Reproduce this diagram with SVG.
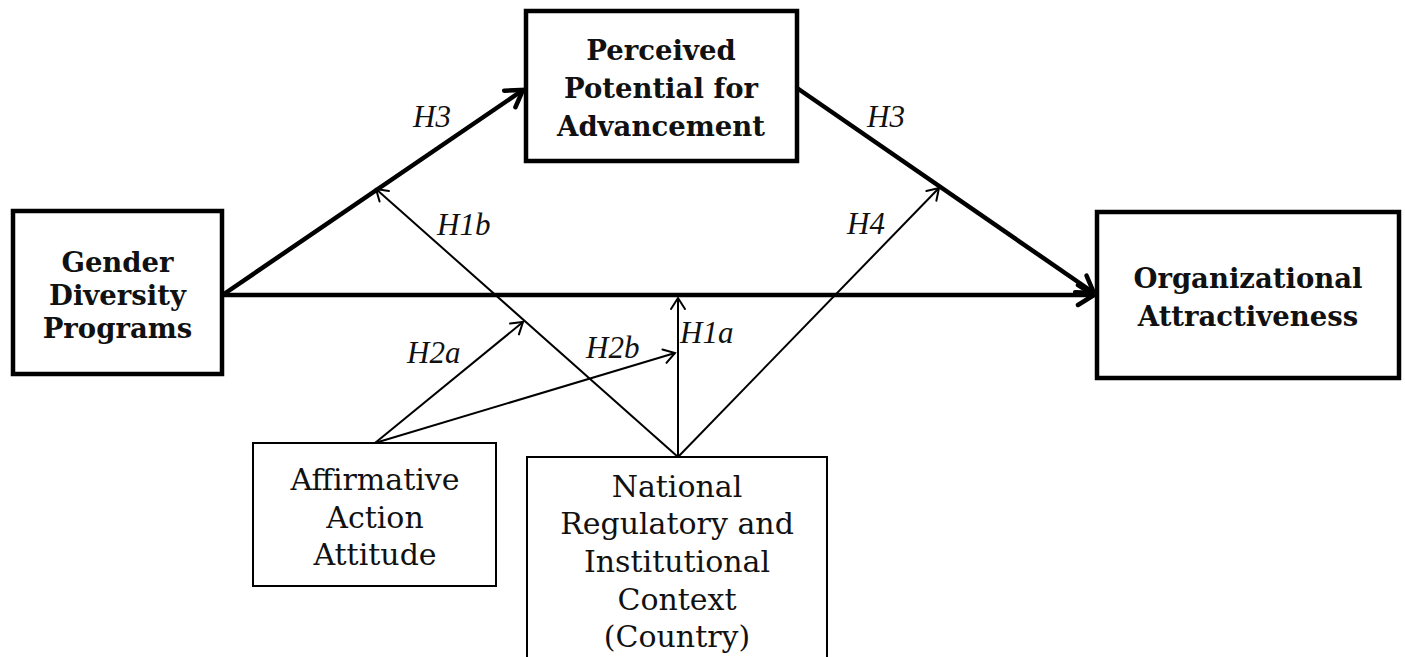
<svg xmlns="http://www.w3.org/2000/svg" width="1405" height="657" viewBox="0 0 1405 657">
<style>
.bx{fill:#fff;stroke:#000;stroke-width:4.5}
.tb{fill:#fff;stroke:#000;stroke-width:2}
.bt{font-family:"DejaVu Serif","Liberation Serif",serif;font-weight:bold;font-size:27.5px;text-anchor:middle;fill:#111}
.rt{font-family:"DejaVu Serif","Liberation Serif",serif;font-size:30px;text-anchor:middle;fill:#111}
.lb{font-family:"Liberation Serif","Times New Roman",serif;font-style:italic;font-size:31px;fill:#111}
.thick{stroke:#000;stroke-width:4.5;fill:none;marker-end:url(#ahk)}
.thin{stroke:#000;stroke-width:2;fill:none;marker-end:url(#ahn)}
</style>
<defs>
<marker id="ahk" markerUnits="userSpaceOnUse" viewBox="-24 -14 28 28" markerWidth="28" markerHeight="28" refX="0" refY="0" orient="auto">
<path d="M-16,-10 L0,0 L-16,10" fill="none" stroke="#000" stroke-width="4.5" stroke-linecap="round" stroke-linejoin="miter"/>
</marker>
<marker id="ahn" markerUnits="userSpaceOnUse" viewBox="-16 -10 20 20" markerWidth="20" markerHeight="20" refX="0" refY="0" orient="auto">
<path d="M-11,-7 L0,0 L-11,7" fill="none" stroke="#000" stroke-width="2" stroke-linecap="round"/>
</marker>
</defs>
<rect width="1405" height="657" fill="#fff"/>
<g id="connectors">
<line class="thick" x1="224" y1="294" x2="523" y2="90"/>
<line class="thick" x1="797" y1="88" x2="1094" y2="293"/>
<line class="thick" x1="224" y1="295" x2="1094" y2="295"/>
<line class="thin" x1="678" y1="457" x2="376" y2="189"/>
<line class="thin" x1="678" y1="457" x2="678" y2="298"/>
<line class="thin" x1="678" y1="457" x2="939" y2="188"/>
<line class="thin" x1="375" y1="443" x2="523" y2="322"/>
<line class="thin" x1="375" y1="443" x2="675" y2="353"/>
<text class="lb" x="413" y="127">H3</text>
<text class="lb" x="867" y="127">H3</text>
<text class="lb" x="437" y="235">H1b</text>
<text class="lb" x="847" y="234">H4</text>
<text class="lb" x="407" y="363">H2a</text>
<text class="lb" x="586" y="358">H2b</text>
<text class="lb" x="680" y="343">H1a</text>
</g>
<g id="gender">
<rect class="bx" x="13" y="211" width="209" height="163"/>
<text class="bt" x="117.5" y="272">Gender</text>
<text class="bt" x="117.5" y="305">Diversity</text>
<text class="bt" x="117.5" y="338">Programs</text>
</g>
<g id="perceived">
<rect class="bx" x="526" y="11" width="271" height="150"/>
<text class="bt" x="661" y="60">Perceived</text>
<text class="bt" x="661" y="98">Potential for</text>
<text class="bt" x="661" y="136">Advancement</text>
</g>
<g id="organizational">
<rect class="bx" x="1097" y="212" width="302" height="166"/>
<text class="bt" x="1248" y="288">Organizational</text>
<text class="bt" x="1248" y="326">Attractiveness</text>
</g>
<g id="affirmative">
<rect class="tb" x="253" y="443" width="243" height="143"/>
<text class="rt" x="375" y="490">Affirmative</text>
<text class="rt" x="375" y="528">Action</text>
<text class="rt" x="375" y="565">Attitude</text>
</g>
<g id="national">
<rect class="tb" x="527" y="457" width="300" height="215"/>
<text class="rt" x="677" y="497">National</text>
<text class="rt" x="677" y="534">Regulatory and</text>
<text class="rt" x="677" y="572">Institutional</text>
<text class="rt" x="677" y="610">Context</text>
<text class="rt" x="677" y="647">(Country)</text>
</g>
</svg>
